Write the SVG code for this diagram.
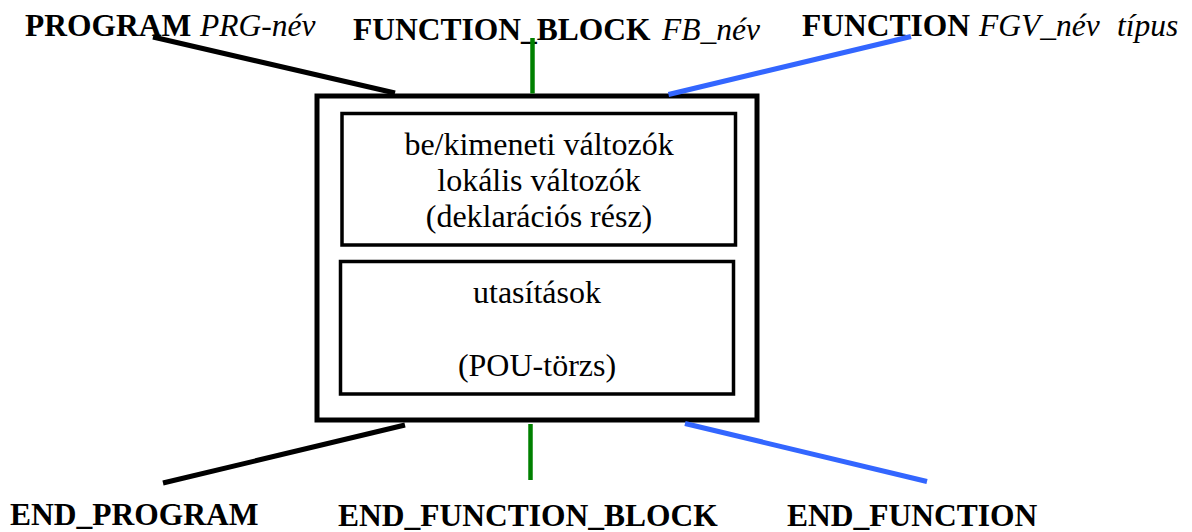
<svg xmlns="http://www.w3.org/2000/svg" width="1192" height="532" viewBox="0 0 1192 532">
  <style>
    .kw { font-family: "Liberation Serif", "Times New Roman", serif; font-weight: bold; font-size: 31.5px; fill: #000; }
    .it { font-family: "Liberation Serif", "Times New Roman", serif; font-style: italic; font-weight: normal; font-size: 31.5px; fill: #000; }
    .body { font-family: "Liberation Serif", "Times New Roman", serif; font-size: 32px; fill: #000; text-anchor: middle; }
    .box { fill: #fff; stroke: #000; }
    .c-black { stroke: #000; stroke-width: 5; fill: none; }
    .c-green { stroke: #008000; stroke-width: 4.5; fill: none; }
    .c-blue { stroke: #3366ff; stroke-width: 5; fill: none; }
  </style>
  <rect width="1192" height="532" fill="#fff"/>

  <g id="pou">
    <rect class="box" x="317" y="96" width="440" height="324" stroke-width="5"/>
  </g>
  <g id="declaration">
    <rect class="box" x="342" y="113.5" width="393.5" height="131.5" stroke-width="3.5"/>
    <text class="body" x="539" y="155">be/kimeneti változók</text>
    <text class="body" x="539" y="191">lokális változók</text>
    <text class="body" x="539" y="227">(deklarációs rész)</text>
  </g>
  <g id="body">
    <rect class="box" x="340.5" y="261.5" width="393" height="132.5" stroke-width="3.5"/>
    <text class="body" x="537" y="302.5">utasítások</text>
    <text class="body" x="537" y="376">(POU-törzs)</text>
  </g>

  <g id="label-program">
    <text x="25" y="36"><tspan class="kw">PROGRAM</tspan><tspan class="it" x="200">PRG-név</tspan></text>
  </g>
  <g id="label-function-block">
    <text x="353" y="40"><tspan class="kw">FUNCTION_BLOCK</tspan><tspan class="it" x="662">FB_név</tspan></text>
  </g>
  <g id="label-function">
    <text x="802" y="36"><tspan class="kw">FUNCTION</tspan><tspan class="it" x="979">FGV_név</tspan><tspan class="it" x="1117">típus</tspan></text>
  </g>
  <g id="label-end-program">
    <text class="kw" x="10" y="525">END_PROGRAM</text>
  </g>
  <g id="label-end-function-block">
    <text class="kw" x="338" y="526">END_FUNCTION_BLOCK</text>
  </g>
  <g id="label-end-function">
    <text class="kw" x="787" y="525.5">END_FUNCTION</text>
  </g>

  <g id="connectors">
    <line class="c-black" x1="153" y1="37" x2="395" y2="93"/>
    <line class="c-green" x1="532.5" y1="38" x2="532.5" y2="93.5"/>
    <line class="c-blue" x1="911" y1="36.5" x2="668.5" y2="94.5"/>
    <line class="c-black" x1="405" y1="425" x2="163" y2="483"/>
    <line class="c-green" x1="530.5" y1="424" x2="530.5" y2="480"/>
    <line class="c-blue" x1="685" y1="423.5" x2="927" y2="481.5"/>
  </g>
</svg>
